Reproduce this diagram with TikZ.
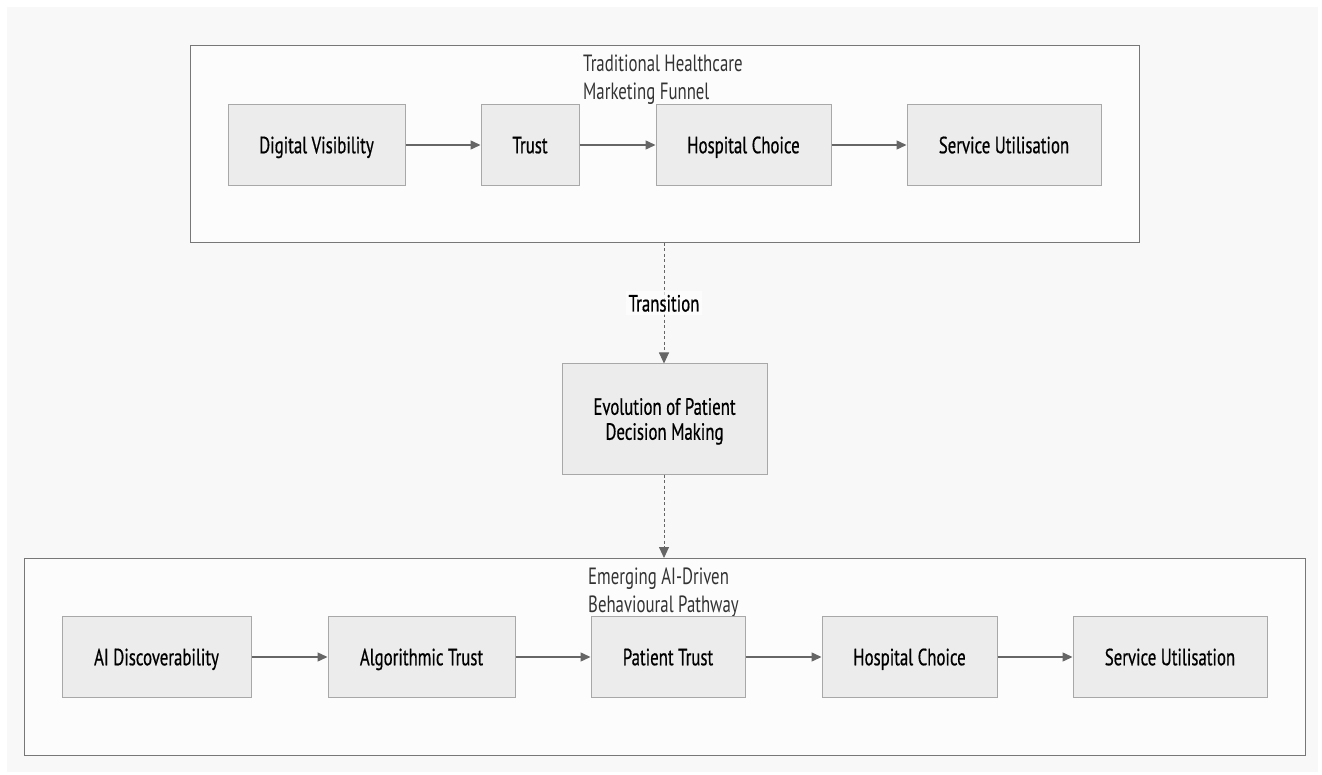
\documentclass[tikz,border=0pt]{standalone}
\usepackage{fontspec}
\setmainfont[FakeStretch=0.715]{PT Sans}
\newfontfamily\boxfont[FakeStretch=0.715,FakeBold=0.6]{PT Sans}
\usetikzlibrary{arrows.meta}
\definecolor{bgc}{HTML}{F8F8F8}
\definecolor{clfill}{HTML}{FCFCFC}
\definecolor{clline}{HTML}{777777}
\definecolor{nfill}{HTML}{ECECEC}
\definecolor{nline}{HTML}{A8A8A8}
\definecolor{arr}{HTML}{666666}
\definecolor{txt}{HTML}{000000}
\definecolor{ttl}{HTML}{333333}
\tikzset{
  box/.style={draw=nline, fill=nfill, line width=1pt, text=txt, font=\boxfont\fontsize{23.5}{25}\selectfont, align=center, inner sep=0pt, text height=16.5pt, text depth=0pt},
  twoline/.style={text height=41.5pt, text depth=0pt},
  cluster/.style={draw=clline, fill=clfill, line width=1pt},
  flow/.style={draw=arr, line width=1.4pt, -{Triangle[length=10pt,width=9pt]}},
  dflow/.style={draw=arr, line width=0.9pt, dash pattern=on 3pt off 2.5pt, -{Triangle[length=11pt,width=10pt]}},
  ctitle/.style={text=ttl, font=\fontsize{23.5}{28}\selectfont, align=left, anchor=north west, inner sep=0pt, text height=44.5pt, text depth=0pt},
}
\begin{document}
\begin{tikzpicture}[x=1pt,y=-1pt]
\useasboundingbox (0,0) rectangle (1322,775);
\fill[white] (0,0) rectangle (1322,775);
\fill[bgc] (7,7) rectangle (1318,772);
% clusters
\draw[cluster] (190,46) rectangle (1139,243);
\node[ctitle] (t1) at (583,55) {Traditional Healthcare\\Marketing Funnel};
\draw[cluster] (24,558) rectangle (1305,755);
\node[ctitle] (t2) at (588,568) {Emerging AI-Driven\\Behavioural Pathway};
\coordinate (c1b) at (664,243);
\coordinate (c2t) at (664,558);
% top nodes
\node[box, minimum width=177pt, minimum height=81pt] (dv) at (316.5,145) {Digital Visibility};
\node[box, minimum width=98pt, minimum height=81pt] (tr) at (530,145) {Trust};
\node[box, minimum width=175pt, minimum height=81pt] (hc) at (743.5,145) {Hospital Choice};
\node[box, minimum width=194pt, minimum height=81pt] (su) at (1004,145) {Service Utilisation};
% middle
\node[box, twoline, minimum width=205pt, minimum height=110pt] (ev) at (664.5,419) {Evolution of Patient\\Decision Making};
% bottom nodes
\node[box, minimum width=189pt, minimum height=81pt] (ai) at (156.5,657) {AI Discoverability};
\node[box, minimum width=187pt, minimum height=81pt] (at) at (421.5,657) {Algorithmic Trust};
\node[box, minimum width=154pt, minimum height=81pt] (pt) at (668,657) {Patient Trust};
\node[box, minimum width=175pt, minimum height=81pt] (hc2) at (909.5,657) {Hospital Choice};
\node[box, minimum width=194pt, minimum height=81pt] (su2) at (1170,657) {Service Utilisation};
% edges
\draw[flow] (dv) -- (tr);
\draw[flow] (tr) -- (hc);
\draw[flow] (hc) -- (su);
\draw[flow] (ai) -- (at);
\draw[flow] (at) -- (pt);
\draw[flow] (pt) -- (hc2);
\draw[flow] (hc2) -- (su2);
\draw[dflow] (c1b) -- (c1b |- ev.north) node[pos=0.5, fill=white, fill opacity=0.7, text opacity=1, text=txt, font=\boxfont\fontsize{23.5}{25}\selectfont, inner xsep=3pt, inner ysep=4pt, text height=16.5pt, text depth=0pt] (tl) {Transition};
\draw[dflow] (ev.south -| c2t) -- (c2t);
\end{tikzpicture}
\end{document}
